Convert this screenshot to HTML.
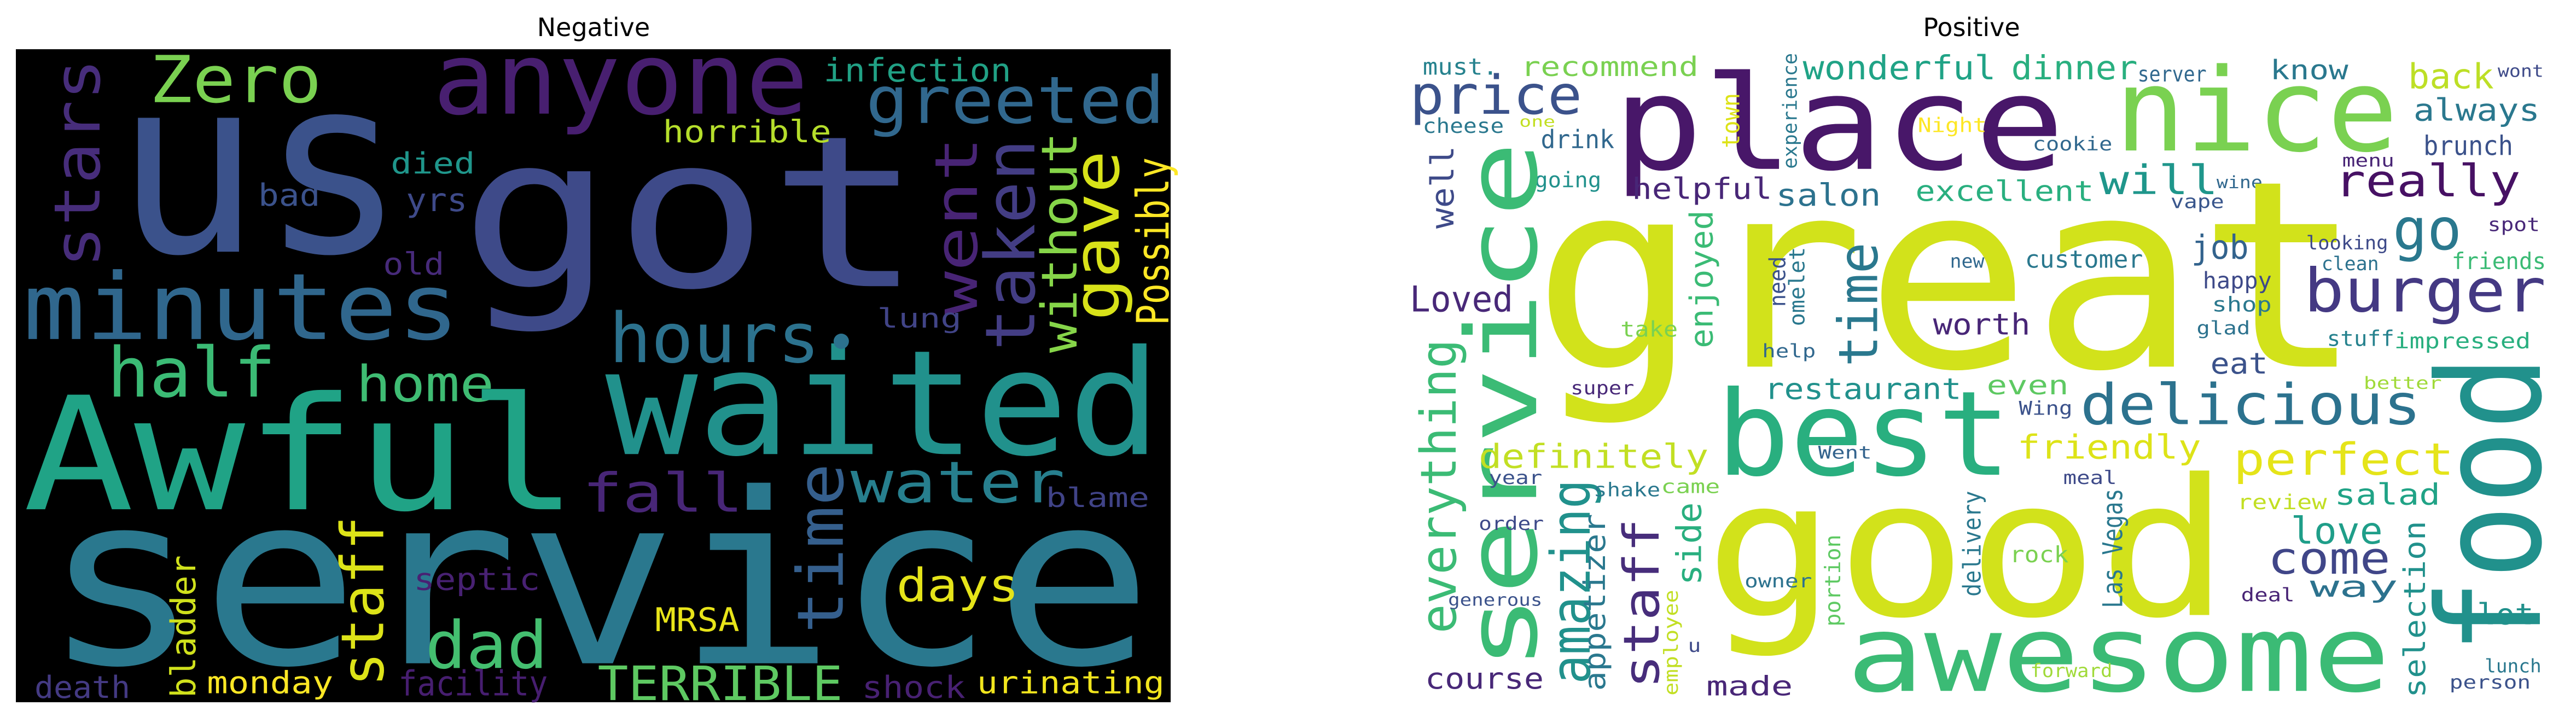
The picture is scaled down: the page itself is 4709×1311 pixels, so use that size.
<!DOCTYPE html>
<html><head><meta charset="utf-8"><style>
html,body{margin:0;padding:0;background:#fff;}
svg{display:block;}
</style></head><body>
<svg id="chart" xmlns="http://www.w3.org/2000/svg" width="4709" height="1311" viewBox="0 0 4709 1311">
<rect x="0" y="0" width="4709" height="1311" fill="#fff"/>
<text x="1085" y="66" font-family="DejaVu Sans, sans-serif" font-size="46" text-anchor="middle" fill="#000">Negative</text>
<text x="3604" y="66" font-family="DejaVu Sans, sans-serif" font-size="46" text-anchor="middle" fill="#000">Positive</text>
<rect x="29" y="90" width="2111" height="1194" fill="#000"/>
<g id="neg"></g>
<g id="pos"></g>
</svg>
<script>
// [word, x0, x1, baseline, top, type, color, orientation] (crop coordinates)
const negWords = [
["Zero",195,420,225,115,"c","#7ad151","h"],
["anyone",565,1055,250,120,"x","#481f70","h"],
["us",150,530,550,230,"x","#3b528b","h"],
["got",600,1205,625,350,"x","#3e4a89","h"],
["stars",65,130,585,130,"x","#472d7b","v"],
["infection",1075,1320,180,138,"x","#21a185","h"],
["greeted",1130,1520,270,185,"x","#31688e","h"],
["horrible",865,1085,312,272,"x","#b5de2b","h"],
["died",510,620,380,342,"x","#1f968b","h"],
["bad",337,418,450,410,"x","#3b528b","h"],
["yrs",530,610,462,420,"x","#3e4a89","h"],
["old",500,580,600,560,"x","#472a7a","h"],
["went",1215,1275,690,300,"x","#482475","v"],
["taken",1280,1350,765,305,"x","#433d84","v"],
["without",1355,1405,770,290,"x","#86d549","v"],
["gave",1395,1460,700,330,"x","#d8e219","v"],
["Possibly",1480,1525,710,345,"x","#fde725","v"],
["minutes",30,600,740,620,"x","#30678d","h"],
["hours",795,1070,790,700,"x","#2c728e","h"],
["lung",1145,1255,715,680,"x","#414487","h"],
["half",140,360,865,775,"x","#3bbb75","h"],
["home",465,645,875,810,"x","#3fbc73","h"],
["Awful",30,755,1110,905,"x","#20a386","h"],
["waited",790,1515,990,800,"x","#21918c","h"],
["fall",760,970,1115,1045,"x","#482677","h"],
["time",1035,1100,1380,1010,"x","#355f8d","v"],
["water",1110,1390,1095,1020,"x","#277f8e","h"],
["blame",1365,1500,1105,1070,"x","#404387","h"],
["service",55,1505,1445,1135,"x","#2a788e","h"],
["staff",440,500,1495,1125,"x","#dde318","v"],
["bladder",220,255,1520,1210,"x","#d0e11c","v"],
["septic",540,705,1285,1245,"x","#482173","h"],
["dad",555,715,1455,1370,"x","#44bf70","h"],
["days",1170,1330,1310,1250,"x","#e5e419","h"],
["MRSA",855,965,1375,1320,"c","#e8e419","h"],
["death",45,170,1520,1480,"x","#443a83","h"],
["monday",270,435,1510,1470,"x","#fde725","h"],
["facility",520,715,1515,1470,"x","#471e70","h"],
["TERRIBLE",780,1100,1525,1445,"c","#5ec962","h"],
["shock",1125,1260,1520,1480,"x","#482173","h"],
["urinating",1275,1520,1510,1470,"x","#f1e51d","h"]
];
const posWords = [
["must.",72,170,165,135,"x","#26828e","h"],
["recommend",200,432,168,133,"x","#7ad151","h"],
["place",320,910,370,200,"x","#481769","h"],
["wonderful",568,820,175,132,"x","#20a386","h"],
["dinner",840,1005,175,132,"x","#29af7f","h"],
["server",1005,1095,180,152,"x","#31688e","h"],
["nice",975,1345,330,180,"x","#7ad151","h"],
["know",1178,1280,175,140,"x","#2a788e","h"],
["back",1358,1470,195,150,"x","#bddf26","h"],
["wont",1475,1535,170,148,"x","#3e4a89","h"],
["price",55,280,250,180,"x","#3b528b","h"],
["cheese",72,178,292,265,"x","#2a788e","h"],
["one",198,245,278,258,"x","#c2df23","h"],
["drink",226,322,325,292,"x","#31688e","h"],
["town",460,485,325,205,"x","#dde318","v"],
["experience",540,560,370,118,"x","#2a788e","v"],
["Night",718,808,290,264,"x","#fde725","h"],
["cookie",868,972,330,305,"x","#31688e","h"],
["always",1365,1530,265,225,"x","#2a788e","h"],
["brunch",1378,1495,340,305,"x","#3b528b","h"],
["menu",1272,1340,365,342,"x","#482475","h"],
["really",1262,1505,430,372,"x","#471164","h"],
["well",80,112,500,320,"x","#3e4a89","v"],
["going",218,305,410,382,"x","#21918c","h"],
["helpful",345,528,435,397,"x","#482677","h"],
["salon",533,670,450,410,"x","#2c728e","h"],
["excellent",715,948,440,403,"x","#29af7f","h"],
["will",955,1110,425,372,"x","#1f968b","h"],
["wine",1108,1168,412,390,"x","#31688e","h"],
["vape",1048,1118,455,430,"x","#39568c","h"],
["service",120,220,1460,310,"x","#3bbb75","v"],
["great",215,1300,800,460,"x","#d2e21b","h"],
["go",1338,1428,545,470,"x","#2a788e","h"],
["spot",1462,1530,505,480,"x","#482878","h"],
["job",1075,1150,565,522,"x","#33638d","h"],
["looking",1225,1332,545,520,"x","#3e4a89","h"],
["clean",1245,1320,590,565,"x","#2c728e","h"],
["friends",1415,1538,588,558,"x","#3bbb75","h"],
["burger",1222,1538,680,602,"x","#443983","h"],
["enjoyed",418,450,760,460,"x","#3bbb75","v"],
["need",522,545,670,560,"x","#3b528b","v"],
["omelet",548,570,712,540,"x","#2a788e","v"],
["time",610,665,800,530,"x","#2a788e","v"],
["new",760,805,585,560,"x","#31688e","h"],
["customer",858,1012,585,553,"x","#2a788e","h"],
["happy",1090,1180,630,600,"x","#3e4a89","h"],
["shop",1102,1180,680,653,"x","#2a788e","h"],
["Loved",55,190,680,620,"c","#482878","h"],
["worth",738,865,730,692,"x","#482677","h"],
["take",330,405,735,707,"x","#7ad151","h"],
["glad",1082,1152,730,706,"x","#2c728e","h"],
["stuff",1252,1340,755,727,"x","#26828e","h"],
["impressed",1340,1518,760,732,"x","#29af7f","h"],
["help",515,585,780,756,"x","#31688e","h"],
["everything",65,115,1380,740,"x","#3bbb75","v"],
["eat",1100,1175,815,777,"x","#3b528b","h"],
["food",1385,1530,1425,775,"x","#21918c","v"],
["super",265,348,860,836,"x","#482878","h"],
["restaurant",518,775,870,832,"x","#21918c","h"],
["even",808,915,860,826,"x","#5ec962","h"],
["better",1300,1402,848,826,"x","#a0da39","h"],
["delicious",930,1375,925,852,"x","#2c728e","h"],
["Wing",850,920,905,880,"x","#3b528b","h"],
["best",455,840,1035,882,"x","#29af7f","h"],
["definitely",145,445,1020,977,"x","#c2df23","h"],
["friendly",848,1088,1000,957,"x","#dde318","h"],
["perfect",1130,1418,1035,977,"x","#e5e419","h"],
["Went",588,658,1000,970,"c","#33638d","h"],
["year",158,228,1055,1031,"x","#3b528b","h"],
["meal",908,978,1055,1031,"x","#3e4a89","h"],
["amazing",235,290,1490,1045,"x","#21918c","v"],
["shake",295,382,1082,1057,"x","#2a788e","h"],
["came",383,460,1075,1050,"x","#7ad151","h"],
["good",440,1125,1340,1092,"x","#d2e21b","h"],
["review",1135,1252,1110,1083,"x","#c2df23","h"],
["salad",1262,1400,1100,1062,"x","#20a386","h"],
["side",400,435,1275,1095,"x","#29af7f","v"],
["order",145,230,1155,1131,"x","#3e4a89","h"],
["appetizer",280,310,1505,1120,"x","#2a788e","v"],
["staff",330,380,1500,1130,"x","#472d7b","v"],
["love",1205,1325,1185,1137,"x","#1f9e89","h"],
["come",1175,1335,1250,1192,"x","#404688","h"],
["way",1230,1345,1300,1262,"x","#2c728e","h"],
["selection",1350,1380,1520,1135,"x","#21918c","v"],
["portion",595,617,1365,1165,"x","#5ec962","v"],
["delivery",775,800,1300,1070,"x","#2a788e","v"],
["rock",838,915,1225,1196,"x","#7ad151","h"],
["Las Vegas",957,985,1325,1065,"x","#2a788e","v"],
["owner",492,580,1280,1256,"x","#2c728e","h"],
["deal",1140,1210,1310,1286,"x","#482475","h"],
["generous",105,228,1320,1298,"x","#3b528b","h"],
["lot",1448,1522,1360,1322,"x","#21918c","h"],
["employee",385,405,1515,1285,"x","#c2df23","v"],
["awesome",625,1335,1505,1367,"x","#3bbb75","h"],
["u",418,435,1420,1396,"x","#3e4a89","h"],
["course",75,230,1500,1462,"x","#482878","h"],
["made",442,555,1515,1480,"x","#482677","h"],
["forward",865,972,1475,1451,"x","#a0da39","h"],
["lunch",1458,1532,1465,1441,"x","#2a788e","h"],
["person",1412,1518,1500,1476,"x","#3b528b","h"]
];
const NS = "http://www.w3.org/2000/svg";
const SX = 1.4006, SY = 0.841;
function draw(groupId, words, offset, prefix) {
  const g = document.getElementById(groupId);
  words.forEach(function (w) {
    const t = document.createElementNS(NS, "text");
    
    
    t.textContent = w[0];
    t.setAttribute("font-family", "DejaVu Sans Mono, monospace");
    t.setAttribute("fill", w[6]);
    t.setAttribute("lengthAdjust", "spacingAndGlyphs");
    const f = w[5] === "c" ? 0.78 : 0.6;
    if (w[7] === "h") {
      const fs = (w[3] - w[4]) * SY / f;
      t.setAttribute("font-size", fs.toFixed(1));
      t.setAttribute("x", (w[1] * SX + offset).toFixed(1));
      t.setAttribute("y", (w[3] * SY - 2.4).toFixed(1));
      t.setAttribute("textLength", ((w[2] - w[1]) * SX).toFixed(1));
    } else {
      const fs = (w[2] - w[1]) * SX / 0.78;
      t.setAttribute("font-size", fs.toFixed(1));
      t.setAttribute("x", "0");
      t.setAttribute("y", "0");
      t.setAttribute("textLength", ((w[3] - w[4]) * SY).toFixed(1));
      t.setAttribute("transform", "translate(" + (w[2] * SX + offset).toFixed(1) + "," + (w[3] * SY - 2.4).toFixed(1) + ") rotate(-90)");
    }
    g.appendChild(t);
  });
}
draw("neg", negWords, 0, "negative");
draw("pos", posWords, 2500, "positive");
const dot = document.createElementNS(NS, "circle");


dot.setAttribute("cx", String(1098 * SX));
dot.setAttribute("cy", String(742 * SY));
dot.setAttribute("r", "14");
dot.setAttribute("fill", "#2c728e");
document.getElementById("neg").appendChild(dot);
</script>
</body></html>
